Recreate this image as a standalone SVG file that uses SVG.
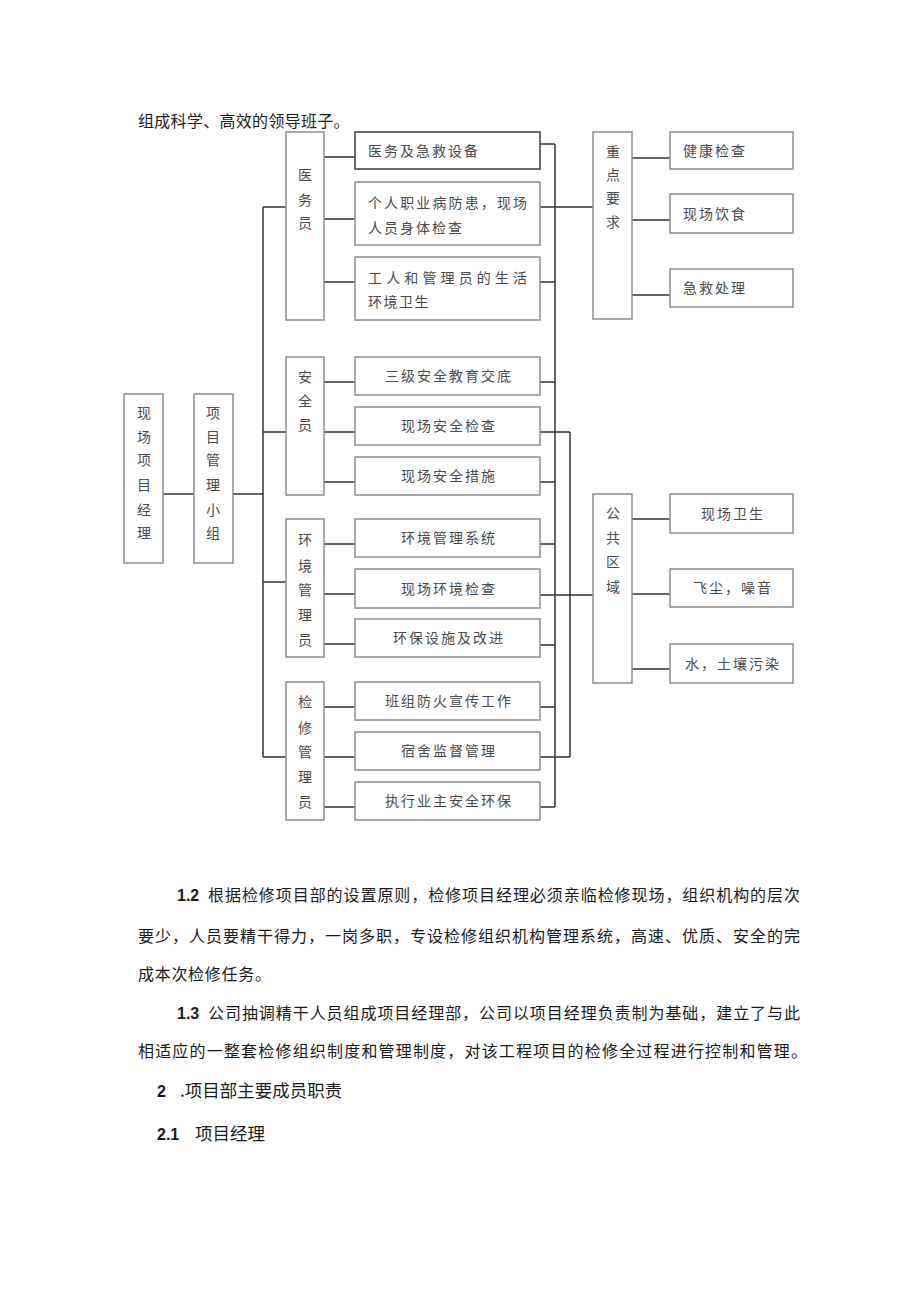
<svg xmlns="http://www.w3.org/2000/svg" width="920" height="1301" viewBox="0 0 920 1301">
<style>
.bg{fill:#ffffff}
.box{fill:#ffffff;stroke:#8c8c8c;stroke-width:1.5}
.dark{fill:#ffffff;stroke:#3a3a3a;stroke-width:1.5}
.ln{stroke:#333333;stroke-width:1.5;fill:none}
.t{font-family:"Noto Sans CJK SC","Noto Sans",sans-serif;font-size:14px;fill:#4a4a4a}
.c{text-anchor:middle;letter-spacing:2px}
.v{text-anchor:middle}
.body{font-family:"Noto Sans CJK SC","Noto Sans",sans-serif;font-size:16px;fill:#1a1a1a}
.h{font-family:"Noto Sans CJK SC","Noto Sans",sans-serif;font-size:17.5px;fill:#1a1a1a}
.num{font-family:"Liberation Sans",Arial,sans-serif;font-weight:bold;font-size:16px;fill:#1a1a1a}
</style>
<rect class="bg" x="0" y="0" width="920" height="1301"/>
<text class="body" x="138" y="127" style="letter-spacing:0.3px">组成科学、高效的领导班子。</text>

<g id="connectors">
<path class="ln" d="M163 494H194 M233 494H263 M263 207V757 M263 207H286 M263 432H286 M263 582H286 M263 757H286"/>
<path class="ln" d="M324 157H355 M324 219H355 M324 282H355 M324 382H355 M324 432H355 M324 482H355 M324 544H355 M324 594H355 M324 644H355 M324 707H355 M324 757H355 M324 807H355"/>
<path class="ln" d="M540 144H555 M540 207H593 M540 282H555 M540 382H555 M540 432H570 M540 482H555 M540 544H555 M540 595H593 M540 645H555 M540 707H555 M540 757H570 M540 807H555 M555 144V807 M570 432V757"/>
<path class="ln" d="M632 158H670 M632 220H670 M632 295H670 M632 519H670 M632 594H670 M632 669H670"/>
</g>

<g id="n-manager"><rect class="box" x="124" y="394" width="39" height="169"/>
<text class="t v" x="144" y="418">现</text><text class="t v" x="144" y="442">场</text><text class="t v" x="144" y="465">项</text><text class="t v" x="144" y="490">目</text><text class="t v" x="144" y="515">经</text><text class="t v" x="144" y="538">理</text></g>
<g id="n-group"><rect class="box" x="194" y="394" width="39" height="169"/>
<text class="t v" x="213" y="418">项</text><text class="t v" x="213" y="442">目</text><text class="t v" x="213" y="465">管</text><text class="t v" x="213" y="490">理</text><text class="t v" x="213" y="515">小</text><text class="t v" x="213" y="538">组</text></g>

<g id="n-medic"><rect class="box" x="286" y="132" width="38" height="188"/>
<text class="t v" x="305" y="180">医</text><text class="t v" x="305" y="205">务</text><text class="t v" x="305" y="228">员</text></g>
<g id="n-safety"><rect class="box" x="286" y="357" width="38" height="138"/>
<text class="t v" x="305" y="382">安</text><text class="t v" x="305" y="406">全</text><text class="t v" x="305" y="430">员</text></g>
<g id="n-env"><rect class="box" x="286" y="519" width="38" height="138"/>
<text class="t v" x="305" y="545">环</text><text class="t v" x="305" y="571">境</text><text class="t v" x="305" y="595">管</text><text class="t v" x="305" y="620">理</text><text class="t v" x="305" y="645">员</text></g>
<g id="n-repair"><rect class="box" x="286" y="682" width="38" height="138"/>
<text class="t v" x="305" y="707">检</text><text class="t v" x="305" y="733">修</text><text class="t v" x="305" y="757">管</text><text class="t v" x="305" y="782">理</text><text class="t v" x="305" y="807">员</text></g>

<g id="n-m1"><rect class="dark" x="355" y="132" width="185" height="37"/><text class="t" x="368" y="156" style="letter-spacing:2px">医务及急救设备</text></g>
<g id="n-m2"><rect class="box" x="355" y="182" width="185" height="63"/><text class="t" x="368" y="208" textLength="159" lengthAdjust="spacing">个人职业病防患，现场</text><text class="t" x="368" y="233" style="letter-spacing:2px">人员身体检查</text></g>
<g id="n-m3"><rect class="box" x="355" y="257" width="185" height="63"/><text class="t" x="368" y="283" textLength="159" lengthAdjust="spacing">工人和管理员的生活</text><text class="t" x="368" y="307" style="letter-spacing:1.5px">环境卫生</text></g>
<g id="n-s1"><rect class="box" x="355" y="357" width="185" height="38"/><text class="t c" x="449" y="381">三级安全教育交底</text></g>
<g id="n-s2"><rect class="box" x="355" y="407" width="185" height="38"/><text class="t c" x="449" y="431">现场安全检查</text></g>
<g id="n-s3"><rect class="box" x="355" y="457" width="185" height="38"/><text class="t c" x="449" y="481">现场安全措施</text></g>
<g id="n-e1"><rect class="box" x="355" y="519" width="185" height="38"/><text class="t c" x="449" y="543">环境管理系统</text></g>
<g id="n-e2"><rect class="box" x="355" y="569" width="185" height="39"/><text class="t c" x="449" y="594">现场环境检查</text></g>
<g id="n-e3"><rect class="box" x="355" y="619" width="185" height="38"/><text class="t c" x="449" y="643">环保设施及改进</text></g>
<g id="n-r1"><rect class="box" x="355" y="682" width="185" height="38"/><text class="t c" x="449" y="706">班组防火宣传工作</text></g>
<g id="n-r2"><rect class="box" x="355" y="732" width="185" height="38"/><text class="t c" x="449" y="756">宿舍监督管理</text></g>
<g id="n-r3"><rect class="box" x="355" y="782" width="185" height="38"/><text class="t c" x="449" y="806">执行业主安全环保</text></g>

<g id="n-key"><rect class="box" x="593" y="132" width="39" height="187"/>
<text class="t v" x="613" y="157">重</text><text class="t v" x="613" y="180">点</text><text class="t v" x="613" y="203">要</text><text class="t v" x="613" y="227">求</text></g>
<g id="n-public"><rect class="box" x="593" y="494" width="39" height="189"/>
<text class="t v" x="613" y="518">公</text><text class="t v" x="613" y="543">共</text><text class="t v" x="613" y="567">区</text><text class="t v" x="613" y="592">域</text></g>

<g id="n-k1"><rect class="box" x="670" y="132" width="123" height="37"/><text class="t" x="683" y="156" style="letter-spacing:2px">健康检查</text></g>
<g id="n-k2"><rect class="box" x="670" y="194" width="123" height="39"/><text class="t" x="683" y="219" style="letter-spacing:2px">现场饮食</text></g>
<g id="n-k3"><rect class="box" x="670" y="269" width="123" height="38"/><text class="t" x="683" y="293" style="letter-spacing:2px">急救处理</text></g>
<g id="n-p1"><rect class="box" x="670" y="494" width="123" height="39"/><text class="t c" x="733" y="519">现场卫生</text></g>
<g id="n-p2"><rect class="box" x="670" y="569" width="123" height="38"/><text class="t c" x="733" y="593">飞尘，噪音</text></g>
<g id="n-p3"><rect class="box" x="670" y="644" width="123" height="39"/><text class="t c" x="733" y="669">水，土壤污染</text></g>

<g id="body-text">
<text class="num" x="177" y="901">1.2</text>
<text class="body" x="208" y="901" textLength="592" lengthAdjust="spacing">根据检修项目部的设置原则，检修项目经理必须亲临检修现场，组织机构的层次</text>
<text class="body" x="138" y="942" textLength="662" lengthAdjust="spacing">要少，人员要精干得力，一岗多职，专设检修组织机构管理系统，高速、优质、安全的完</text>
<text class="body" x="138" y="980" style="letter-spacing:0.7px">成本次检修任务。</text>
<text class="num" x="177" y="1019">1.3</text>
<text class="body" x="208" y="1019" textLength="592" lengthAdjust="spacing">公司抽调精干人员组成项目经理部，公司以项目经理负责制为基础，建立了与此</text>
<text class="body" x="138" y="1057" textLength="669" lengthAdjust="spacing">相适应的一整套检修组织制度和管理制度，对该工程项目的检修全过程进行控制和管理。</text>
<text class="num" x="157" y="1097">2</text>
<text class="h" x="180" y="1097">.项目部主要成员职责</text>
<text class="num" x="157" y="1140">2.1</text>
<text class="h" x="195" y="1140">项目经理</text>
</g>
</svg>
